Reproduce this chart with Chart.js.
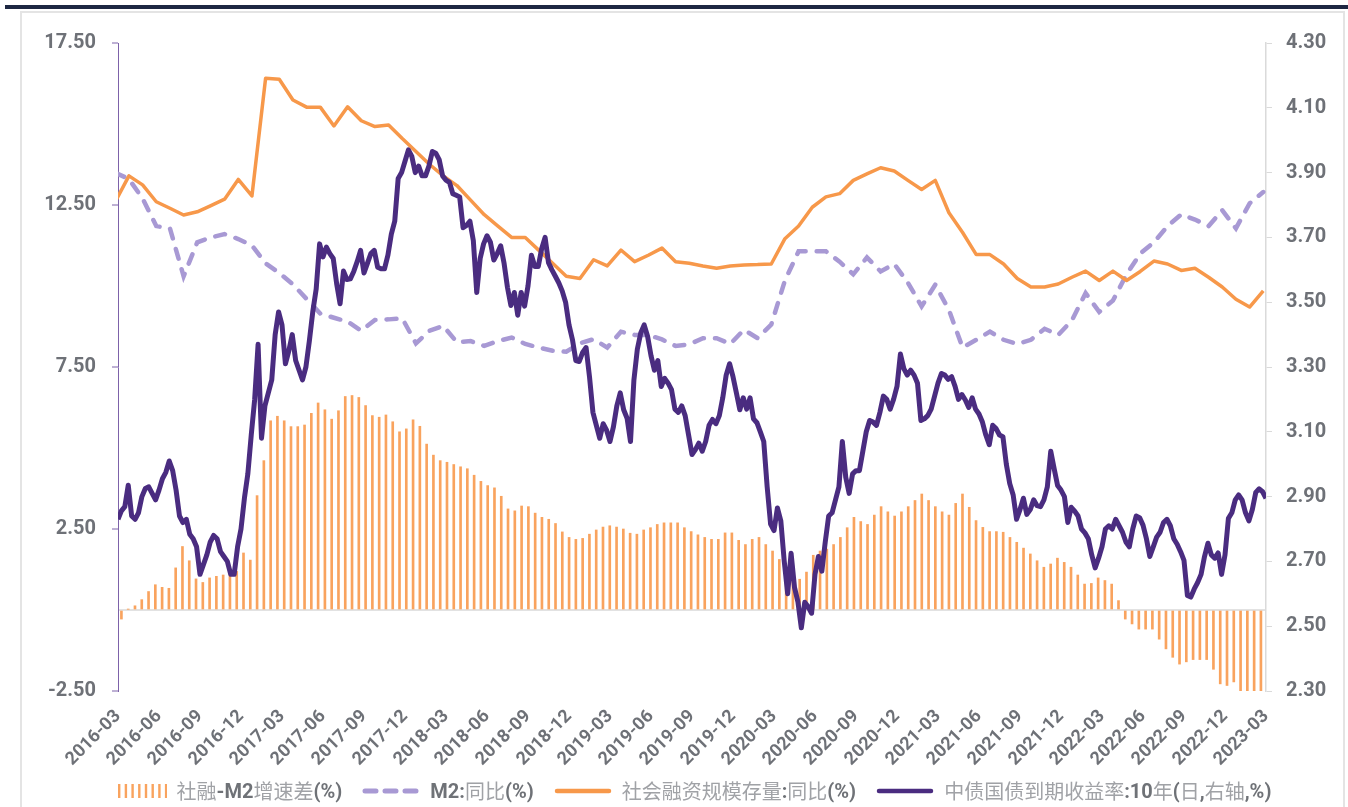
<!DOCTYPE html>
<html>
<head>
<meta charset="utf-8">
<script src="https://cdn.jsdelivr.net/npm/chart.js@4.4.1/dist/chart.umd.min.js"></script>
<style>
  html, body { margin: 0; padding: 0; background: #fff; overflow: hidden; }
  .topbar { position: absolute; left: 5px; top: 5px; width: 1343px; height: 4px; background: #1d2742; }
  .frame { position: absolute; left: 20px; top: 11px; width: 1321px; height: 800px; border: 2px solid #e4e4e4; border-bottom: none; }
  #chart { position: absolute; left: 0; top: 0; }
  #legend {
    position: absolute; left: 40px; top: 778px; width: 1308px; height: 26px;
    display: flex; justify-content: center; align-items: center; gap: 20px;
    font-size: 20px; line-height: 26px; white-space: nowrap;
  }
  #legend .item { display: flex; align-items: center; }
  #legend canvas { margin-right: 10px; }
  #legend .cjk { font-family: "Noto Sans CJK SC", sans-serif; color: #a0a2a6; }
  #legend .lat { font-family: Roboto, sans-serif; font-weight: bold; color: #6f7277; }
</style>
</head>
<body>
<div class="topbar"></div>
<div class="frame"></div>
<canvas id="chart" width="1348" height="807"></canvas>
<div id="legend"></div>
<script>
// x tick labels, one every 3 months
const tickLabels = [
  '2016-03','2016-06','2016-09','2016-12','2017-03','2017-06','2017-09','2017-12',
  '2018-03','2018-06','2018-09','2018-12','2019-03','2019-06','2019-09','2019-12',
  '2020-03','2020-06','2020-09','2020-12','2021-03','2021-06','2021-09','2021-12',
  '2022-03','2022-06','2022-09','2022-12','2023-03'
];

// 社融-M2增速差(%) - half-month bars
const spreadValues = [
  -0.28, 0.02, 0.13, 0.32, 0.57, 0.78, 0.70, 0.67, 1.30, 1.96,
  1.52, 0.96, 0.85, 0.99, 1.04, 1.08, 1.13, 1.19, 1.76, 1.54,
  3.53, 4.61, 5.84, 5.98, 5.84, 5.66, 5.66, 5.71, 6.07, 6.39,
  6.18, 5.89, 6.15, 6.59, 6.62, 6.56, 6.31, 6.00, 5.95, 6.02,
  5.81, 5.50, 5.59, 5.87, 5.67, 5.12, 4.78, 4.61, 4.56, 4.49,
  4.42, 4.36, 4.16, 3.97, 3.84, 3.77, 3.51, 3.12, 3.06, 3.21,
  3.19, 2.99, 2.86, 2.80, 2.67, 2.41, 2.24, 2.18, 2.21, 2.34,
  2.47, 2.56, 2.60, 2.56, 2.50, 2.37, 2.34, 2.47, 2.54, 2.64,
  2.69, 2.69, 2.69, 2.54, 2.42, 2.32, 2.24, 2.18, 2.18, 2.38,
  2.38, 2.15, 2.02, 2.18, 2.24, 2.02, 1.82, 1.56, 1.24, 1.05,
  0.95, 1.17, 1.69, 1.82, 1.88, 2.02, 2.24, 2.54, 2.86, 2.73,
  2.64, 2.93, 3.19, 3.03, 2.90, 3.03, 3.19, 3.38, 3.58, 3.38,
  3.19, 3.03, 2.93, 3.29, 3.58, 3.17, 2.76, 2.55, 2.42, 2.42,
  2.40, 2.24, 2.09, 1.91, 1.73, 1.52, 1.32, 1.42, 1.60, 1.47,
  1.32, 1.08, 0.80, 0.82, 0.99, 0.91, 0.80, 0.29, -0.28, -0.43,
  -0.59, -0.59, -0.59, -0.90, -1.20, -1.46, -1.67, -1.60, -1.53, -1.53,
  -1.53, -1.83, -2.28, -2.33, -2.22, -2.50, -2.50, -2.50, -2.50
];

// M2:同比(%) - monthly, 2016-02 .. 2023-02
const m2Values = [
  13.5, 13.3, 12.7, 11.85, 11.78, 10.3, 11.35, 11.5, 11.6, 11.45,
  11.25, 10.7, 10.4, 10.05, 9.6, 9.15, 9.02, 8.9, 8.62, 8.95,
  8.97, 9.0, 8.23, 8.62, 8.77, 8.26, 8.3, 8.15, 8.3, 8.41,
  8.21, 8.1, 8.0, 7.97, 8.23, 8.36, 8.1, 8.59, 8.49, 8.49,
  8.35, 8.15, 8.2, 8.39, 8.39, 8.21, 8.65, 8.39, 8.81, 10.17,
  11.07, 11.07, 11.07, 10.75, 10.36, 10.88, 10.45, 10.68, 10.1, 9.37,
  10.04, 9.26, 8.1, 8.34, 8.59, 8.34, 8.21, 8.34, 8.68, 8.49,
  8.94, 9.78, 9.2, 9.55, 10.36, 11.0, 11.35, 11.85, 12.21, 12.05,
  11.85, 12.34, 11.78, 12.55, 12.9
];

// 社会融资规模存量:同比(%) - monthly, 2016-02 .. 2023-02
const tsfValues = [
  12.6, 13.4, 13.12, 12.6, 12.4, 12.19, 12.29, 12.48, 12.68, 13.29,
  12.78, 16.41, 16.38, 15.74, 15.52, 15.52, 14.94, 15.53, 15.1, 14.92,
  14.97, 14.55, 14.15, 13.75, 13.4, 13.1, 12.65, 12.2, 11.85, 11.5,
  11.5, 11.1, 10.7, 10.3, 10.23, 10.81, 10.62, 11.11, 10.75, 10.95,
  11.17, 10.75, 10.7, 10.62, 10.55, 10.62, 10.65, 10.66, 10.68, 11.46,
  11.85, 12.43, 12.75, 12.85, 13.26, 13.46, 13.65, 13.55, 13.26, 12.98,
  13.26, 12.26, 11.65, 10.97, 10.97, 10.68, 10.23, 9.97, 9.97, 10.06,
  10.27, 10.46, 10.17, 10.46, 10.17, 10.45, 10.77, 10.68, 10.48, 10.55,
  10.27, 9.97, 9.59, 9.35, 9.85
];

// 中债国债到期收益率:10年 - sampled every quarter month from 2016-03
const yieldValues = [
  2.83, 2.856, 2.869, 2.935, 2.84, 2.83, 2.85, 2.90, 2.925, 2.93,
  2.91, 2.89, 2.92, 2.955, 2.975, 3.01, 2.98, 2.92, 2.84, 2.82,
  2.83, 2.784, 2.77, 2.745, 2.66, 2.69, 2.72, 2.76, 2.78, 2.77,
  2.73, 2.715, 2.70, 2.66, 2.66, 2.745, 2.80, 2.895, 2.97, 3.09,
  3.20, 3.37, 3.08, 3.18, 3.22, 3.26, 3.40, 3.47, 3.43, 3.31,
  3.35, 3.40, 3.32, 3.29, 3.26, 3.30, 3.38, 3.47, 3.54, 3.68,
  3.64, 3.67, 3.65, 3.635, 3.557, 3.495, 3.596, 3.57, 3.572, 3.595,
  3.625, 3.66, 3.59, 3.62, 3.65, 3.66, 3.608, 3.603, 3.603, 3.645,
  3.71, 3.75, 3.882, 3.90, 3.935, 3.97, 3.95, 3.90, 3.92, 3.89,
  3.89, 3.92, 3.965, 3.96, 3.94, 3.89, 3.877, 3.87, 3.835, 3.83,
  3.825, 3.73, 3.737, 3.75, 3.69, 3.53, 3.635, 3.68, 3.705, 3.685,
  3.63, 3.65, 3.674, 3.62, 3.545, 3.49, 3.53, 3.46, 3.53, 3.488,
  3.55, 3.645, 3.61, 3.61, 3.665, 3.70, 3.622, 3.60, 3.58, 3.56,
  3.535, 3.50, 3.43, 3.385, 3.32, 3.317, 3.345, 3.36, 3.27, 3.16,
  3.12, 3.08, 3.125, 3.105, 3.07, 3.115, 3.18, 3.22, 3.168, 3.142,
  3.07, 3.26, 3.355, 3.405, 3.43, 3.395, 3.335, 3.29, 3.32, 3.24,
  3.265, 3.25, 3.23, 3.17, 3.16, 3.18, 3.15, 3.09, 3.03, 3.045,
  3.065, 3.04, 3.07, 3.12, 3.138, 3.125, 3.15, 3.205, 3.275, 3.31,
  3.27, 3.22, 3.168, 3.205, 3.17, 3.205, 3.14, 3.128, 3.10, 3.07,
  2.93, 2.815, 2.795, 2.865, 2.825, 2.70, 2.60, 2.725, 2.62, 2.575,
  2.495, 2.574, 2.56, 2.54, 2.66, 2.715, 2.67, 2.76, 2.84, 2.85,
  2.89, 2.93, 3.07, 2.96, 2.91, 2.97, 2.98, 2.98, 3.04, 3.10,
  3.135, 3.13, 3.12, 3.16, 3.21, 3.20, 3.17, 3.20, 3.24, 3.34,
  3.295, 3.275, 3.29, 3.275, 3.25, 3.135, 3.14, 3.15, 3.17, 3.21,
  3.25, 3.28, 3.275, 3.262, 3.27, 3.24, 3.20, 3.215, 3.198, 3.175,
  3.205, 3.17, 3.155, 3.13, 3.09, 3.06, 3.12, 3.11, 3.09, 3.085,
  3.0, 2.94, 2.905, 2.83, 2.86, 2.895, 2.845, 2.86, 2.89, 2.872,
  2.869, 2.89, 2.93, 3.04, 2.986, 2.934, 2.92, 2.90, 2.82, 2.867,
  2.855, 2.84, 2.80, 2.788, 2.77, 2.72, 2.68, 2.71, 2.745, 2.80,
  2.81, 2.80, 2.83, 2.81, 2.79, 2.76, 2.745, 2.80, 2.84, 2.835,
  2.812, 2.77, 2.715, 2.745, 2.775, 2.79, 2.82, 2.83, 2.81, 2.77,
  2.753, 2.73, 2.703, 2.595, 2.59, 2.615, 2.635, 2.66, 2.715, 2.756,
  2.72, 2.71, 2.726, 2.66, 2.72, 2.833, 2.85, 2.89, 2.905, 2.89,
  2.85, 2.825, 2.86, 2.913, 2.924, 2.915, 2.895
];

const COLORS = {
  bar: '#f9a35e',
  m2: '#a899d4',
  tsf: '#f7984a',
  yield: '#4a2c80',
  leftAxis: '#7d62a9',
  rightAxis: '#dadada',
  zero: '#e2e2e2',
  tick: '#6e7177'
};

// x axis is in months since 2016-03; monthly points sit near month end
const MONTH_OFFSET = -0.2;
const monthPoints = vals => vals.map((v, i) => ({ x: i + MONTH_OFFSET, y: v }));
const barPoints = spreadValues.map((v, k) => ({ x: 0.25 + k * 0.4963, y: v }));
const yieldPoints = yieldValues.map((v, j) => ({ x: j * 0.25, y: v }));

function makeIcon(w, h, draw) {
  const c = document.createElement('canvas');
  c.width = w; c.height = h;
  draw(c.getContext('2d'), w, h);
  return c;
}
const barIcon = () => makeIcon(50, 14, (g, w, h) => {
  g.fillStyle = COLORS.bar;
  for (let i = 0; i < 8; i++) g.fillRect(1 + i * 6.7, 0, 2.4, h);
});
const dashIcon = () => makeIcon(58, 8, (g, w, h) => {
  g.strokeStyle = COLORS.m2; g.lineWidth = 5; g.lineCap = 'round';
  g.setLineDash([11, 9]);
  g.beginPath(); g.moveTo(3, h / 2); g.lineTo(w - 3, h / 2); g.stroke();
});
const lineIcon = color => () => makeIcon(58, 8, (g, w, h) => {
  g.strokeStyle = color; g.lineWidth = 4.5; g.lineCap = 'round';
  g.beginPath(); g.moveTo(3, h / 2); g.lineTo(w - 3, h / 2); g.stroke();
});
const legendIcons = [barIcon, dashIcon, lineIcon(COLORS.tsf), lineIcon(COLORS.yield)];

const tickFont = { family: 'Roboto, "Noto Sans CJK SC", sans-serif', size: 20, weight: 'bold' };

const chart = new Chart(document.getElementById('chart'), {
  data: {
    datasets: [
      {
        type: 'bar', label: '社融-M2增速差(%)', data: barPoints, yAxisID: 'y',
        backgroundColor: COLORS.bar, barThickness: 2, order: 4
      },
      {
        type: 'line', label: 'M2:同比(%)', data: monthPoints(m2Values), yAxisID: 'y',
        borderColor: COLORS.m2, borderWidth: 4.5, borderDash: [10, 11], borderCapStyle: 'round',
        pointRadius: 0, tension: 0, order: 3
      },
      {
        type: 'line', label: '社会融资规模存量:同比(%)', data: monthPoints(tsfValues), yAxisID: 'y',
        borderColor: COLORS.tsf, borderWidth: 3.5, borderJoinStyle: 'round',
        pointRadius: 0, tension: 0, order: 2
      },
      {
        type: 'line', label: '中债国债到期收益率:10年(日,右轴,%)', data: yieldPoints, yAxisID: 'y1',
        borderColor: COLORS.yield, borderWidth: 5, borderJoinStyle: 'round',
        pointRadius: 0, tension: 0, order: 1
      }
    ]
  },
  options: {
    animation: false,
    responsive: false,
    devicePixelRatio: 1,
    layout: { padding: { left: 40, right: 0, top: 43, bottom: 0 } },
    plugins: {
      tooltip: { enabled: false },
      legend: { display: false }
    },
    scales: {
      x: {
        type: 'linear', min: 0, max: 84, offset: false,
        grid: { display: false, drawTicks: false },
        border: { display: false },
        ticks: {
          stepSize: 3, autoSkip: false, maxRotation: 45, minRotation: 45, padding: 15,
          color: COLORS.tick, font: { ...tickFont, size: 18 },
          callback: (v, i) => tickLabels[i]
        },
        afterFit: s => { s.height = 116; }
      },
      y: {
        position: 'left', min: -2.5, max: 17.5,
        ticks: {
          stepSize: 5, padding: 16, color: COLORS.tick, font: tickFont,
          callback: v => (v === 0 ? '' : v.toFixed(2))
        },
        afterBuildTicks: s => {
          s.ticks.push({ value: 0 });
          s.ticks.sort((a, b) => a.value - b.value);
        },
        grid: {
          drawOnChartArea: true, tickLength: 6, lineWidth: 2,
          color: c => (c.tick && c.tick.value === 0 ? COLORS.zero : 'rgba(0,0,0,0)'),
          tickColor: c => (c.tick && c.tick.value === 0 ? 'rgba(0,0,0,0)' : COLORS.leftAxis),
          tickWidth: 1
        },
        border: { display: true, color: COLORS.leftAxis, width: 1 },
        afterFit: s => { s.width = 78; }
      },
      y1: {
        position: 'right', min: 2.3, max: 4.3,
        ticks: {
          stepSize: 0.2, padding: 14, color: COLORS.tick, font: tickFont,
          callback: v => v.toFixed(2)
        },
        grid: { drawOnChartArea: false, tickLength: 6, color: COLORS.rightAxis },
        border: { display: true, color: COLORS.rightAxis, width: 1.5 },
        afterFit: s => { s.width = 82; }
      }
    }
  }
});

// legend below the axis: CJK runs light, latin runs bold as in the source chart
const legendEl = document.getElementById('legend');
chart.data.datasets.forEach((ds, i) => {
  const item = document.createElement('div');
  item.className = 'item';
  item.appendChild(legendIcons[i]());
  ds.label.split(/([\u4e00-\u9fff]+)/).filter(Boolean).forEach(part => {
    const span = document.createElement('span');
    span.className = /[\u4e00-\u9fff]/.test(part) ? 'cjk' : 'lat';
    span.textContent = part;
    item.appendChild(span);
  });
  legendEl.appendChild(item);
});
</script>
</body>
</html>
